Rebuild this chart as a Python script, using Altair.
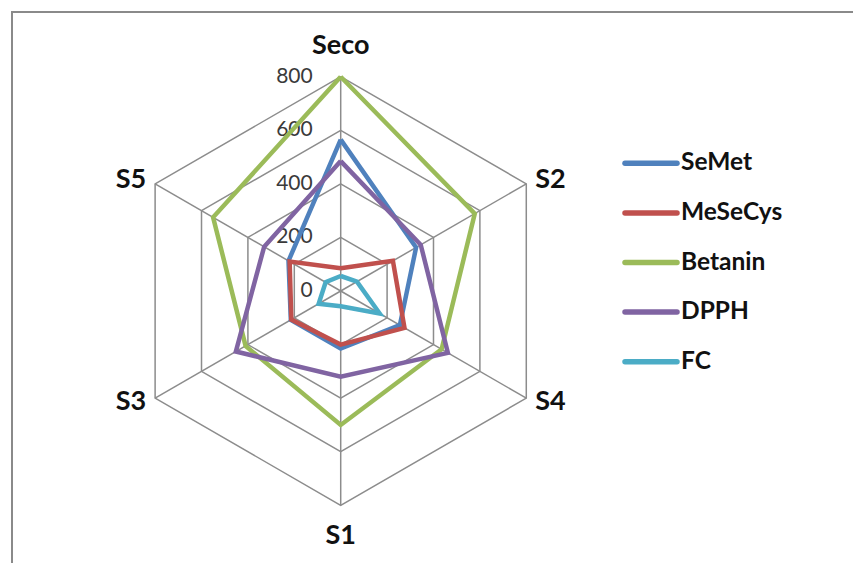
import altair as alt
import pandas as pd

# ---- data ----
categories = ["Seco", "S2", "S4", "S1", "S3", "S5"]
series_names = ["SeMet", "MeSeCys", "Betanin", "DPPH", "FC"]
semet = [565, 325, 255, 215, 215, 225]
mesecys = [85, 225, 275, 200, 213, 220]
betanin = [800, 578, 435, 500, 410, 550]
dpph = [485, 345, 462, 320, 452, 330]
fc = [56, 70, 168, 57, 95, 65]
tick_levels = [0, 200, 400, 600, 800]
tick_labels = ["0", "200", "400", "600", "800"]
colors = ["#4F81BD", "#C0504D", "#9BBB59", "#8064A2", "#4BACC6"]

series_values = [semet, mesecys, betanin, dpph, fc]
n = len(categories)
rmax = tick_levels[-1]

# ---- geometry (pixel mapping) ----
W, H = 853, 563
k = 214.3 / 800.0          # px per unit
cx, cy = 340.7, 291.0      # centre in px
xdom = [-cx / k, (W - cx) / k]
ydom = [-(H - cy) / k, cy / k]
xs = alt.Scale(domain=xdom, nice=False, zero=False)
ys = alt.Scale(domain=ydom, nice=False, zero=False)

ang = "datum.idx * PI / 3"
def polar(chart, rfield="value"):
    return chart.transform_calculate(
        px=f"datum.{rfield} * sin({ang})",
        py=f"datum.{rfield} * cos({ang})",
    )

# grid rings
ring_rows = []
for lv in tick_levels[1:]:
    for i in range(n + 1):
        ring_rows.append({"level": lv, "idx": i % n, "ord": i, "value": lv})
rings = polar(
    alt.Chart(pd.DataFrame(ring_rows)).mark_line(color="#8c8c8c", strokeWidth=1.5)
).encode(
    x=alt.X("px:Q", scale=xs, axis=None),
    y=alt.Y("py:Q", scale=ys, axis=None),
    detail="level:N",
    order="ord:Q",
)

# spokes
spoke_df = pd.DataFrame({"idx": list(range(n)), "value": [rmax] * n, "zero": [0] * n})
spokes = polar(
    alt.Chart(spoke_df).mark_rule(color="#8c8c8c", strokeWidth=1.5)
).encode(
    x=alt.X("zero:Q", scale=xs, axis=None),
    y=alt.Y("zero:Q", scale=ys, axis=None),
    x2="px:Q",
    y2="py:Q",
)

# tick labels
tick_df = pd.DataFrame({"level": tick_levels, "label": tick_labels, "zero": [0] * len(tick_levels)})
ticks = alt.Chart(tick_df).mark_text(
    align="right", baseline="middle", dx=-28, font="Lato", fontSize=21, color="#3a3a3a"
).encode(
    x=alt.X("zero:Q", scale=xs, axis=None),
    y=alt.Y("level:Q", scale=ys, axis=None),
    text="label:N",
)

# category labels
cat_df = pd.DataFrame({"idx": list(range(n)), "cat": categories})
cat_labels = alt.Chart(cat_df).transform_calculate(
    rx="datum.idx % 3 == 0 ? 914 : 904",
    ry="datum.idx % 3 == 0 ? 914 : 829",
).transform_calculate(
    px=f"datum.rx * sin({ang})",
    py=f"datum.ry * cos({ang})",
).mark_text(
    align="center", baseline="middle", font="Lato", fontWeight="bold", fontSize=27, color="#111111"
).encode(
    x=alt.X("px:Q", scale=xs, axis=None),
    y=alt.Y("py:Q", scale=ys, axis=None),
    text="cat:N",
)

# series lines (drawn in series order)
series_layers = []
for name, vals, col in zip(series_names, series_values, colors):
    rows = [{"series": name, "idx": i % n, "ord": i, "value": vals[i % n]} for i in range(n + 1)]
    series_layers.append(
        polar(
            alt.Chart(pd.DataFrame(rows)).mark_line(color=col, strokeWidth=4.5, strokeJoin="miter")
        ).encode(
            x=alt.X("px:Q", scale=xs, axis=None),
            y=alt.Y("py:Q", scale=ys, axis=None),
            order="ord:Q",
        )
    )

# legend
leg_df = pd.DataFrame({"name": series_names})
leg_y = alt.Y("name:N", scale=alt.Scale(type="point", domain=series_names, range=[163.3, 361.7], padding=0), axis=None)
leg_color = alt.Color("name:N", scale=alt.Scale(domain=series_names, range=colors), legend=None)
leg_lines = alt.Chart(leg_df).mark_rule(strokeWidth=5.5, strokeCap="round").encode(
    y=leg_y, x=alt.value(625), x2=alt.value(677), color=leg_color
)
leg_text = alt.Chart(leg_df).mark_text(
    align="left", baseline="middle", font="Lato", fontWeight="bold", fontSize=24.5, color="#111111"
).encode(y=leg_y, x=alt.value(681), text="name:N")

# frame
frame = alt.Chart(pd.DataFrame({"a": [0]})).mark_rect(
    fillOpacity=0, stroke="#8a8a8a", strokeWidth=2
).encode(x=alt.value(12), y=alt.value(12), x2=alt.value(900), y2=alt.value(620))

chart = alt.layer(
    frame, rings, spokes, ticks, cat_labels, *series_layers, leg_lines, leg_text
).resolve_scale(
    y="independent", color="independent"
).properties(
    width=W, height=H, autosize=alt.AutoSizeParams(type="none"), padding=0, background="white"
).configure_view(stroke=None)

chart.save("out.html", embed_options={"renderer": "svg", "actions": False})
